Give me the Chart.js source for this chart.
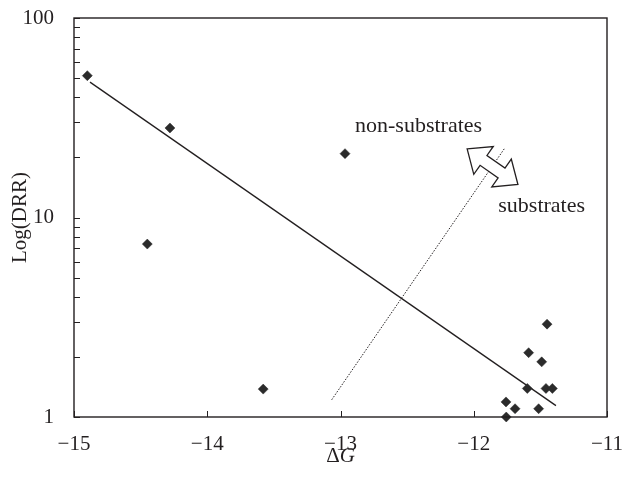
<!DOCTYPE html>
<html><head><meta charset="utf-8">
<script src="https://cdn.jsdelivr.net/npm/chart.js@4/dist/chart.umd.min.js"></script>
<style>html,body{margin:0;padding:0;background:#fff}</style>
</head><body>
<canvas id="c" width="624" height="479"></canvas>
<script>
// ---- data ----
const deltaG = [-14.90, -14.28, -14.45, -13.58, -12.966, -11.45, -11.588, -11.49, -11.598, -11.458, -11.41, -11.758, -11.69, -11.513, -11.756];
const drr    = [51.4, 28.1, 7.36, 1.38, 20.9, 2.92, 2.10, 1.89, 1.39, 1.39, 1.39, 1.19, 1.10, 1.10, 1.00];
const fitX = [-14.88, -11.383];
const fitY = [47.7, 1.14];
const boundaryX = [-13.066, -11.765];
const boundaryY = [1.22, 22.4];
const xTickValues = [-15, -14, -13, -12, -11];
const yTickValues = [1, 2, 3, 4, 5, 6, 7, 8, 9, 10, 20, 30, 40, 50, 60, 70, 80, 90, 100];
const yLabelValues = [1, 10, 100];
const labelNon = 'non-substrates';
const labelSub = 'substrates';
const xTitleUpright = '\u0394';
const xTitleItalic = 'G';

const INK = '#231f20';
const SERIF = "'Liberation Serif', 'DejaVu Serif', serif";

const annotationPlugin = {
  id: 'frameAndNotes',
  afterDraw(chart) {
    const ctx = chart.ctx, a = chart.chartArea;
    const xs = chart.scales.x, ys = chart.scales.y;
    ctx.save();
    ctx.strokeStyle = INK;
    ctx.lineWidth = 1.4;
    ctx.strokeRect(a.left, a.top, a.right - a.left, a.bottom - a.top);
    // inward ticks
    ctx.lineWidth = 1;
    ctx.beginPath();
    xs.ticks.forEach(t => {
      const px = Math.round(xs.getPixelForValue(t.value)) + 0.5;
      ctx.moveTo(px, a.bottom); ctx.lineTo(px, a.bottom - 6);
    });
    ys.ticks.forEach(t => {
      const py = Math.round(ys.getPixelForValue(t.value)) + 0.5;
      ctx.moveTo(a.left, py); ctx.lineTo(a.left + 6, py);
    });
    ctx.stroke();
    // x axis title: upright delta + italic G
    ctx.fillStyle = INK;
    ctx.textBaseline = 'alphabetic';
    ctx.textAlign = 'left';
    const fUp = '21px ' + SERIF, fIt = 'italic 21px ' + SERIF;
    ctx.font = fUp; const w1 = ctx.measureText(xTitleUpright).width;
    ctx.font = fIt; const w2 = ctx.measureText(xTitleItalic).width;
    const tx = (a.left + a.right) / 2 - (w1 + w2) / 2, ty = a.bottom + 45;
    ctx.font = fUp; ctx.fillText(xTitleUpright, tx, ty);
    ctx.font = fIt; ctx.fillText(xTitleItalic, tx + w1, ty);
    // texts
    ctx.font = '22px ' + SERIF;
    ctx.fillText(labelNon, xs.getPixelForValue(-12.891), ys.getPixelForValue(26.9));
    ctx.fillText(labelSub, xs.getPixelForValue(-11.816), ys.getPixelForValue(10.7));
    // double arrow
    const cx = xs.getPixelForValue(-11.859), cy = ys.getPixelForValue(17.97);
    const ang = 35 * Math.PI / 180;
    const pts = [[-31, 0], [-11, -17], [-11, -6], [11, -6], [11, -17], [31, 0], [11, 17], [11, 6], [-11, 6], [-11, 17]];
    ctx.translate(cx, cy);
    ctx.rotate(ang);
    ctx.beginPath();
    pts.forEach((p, i) => i ? ctx.lineTo(p[0], p[1]) : ctx.moveTo(p[0], p[1]));
    ctx.closePath();
    ctx.fillStyle = '#fff';
    ctx.fill();
    ctx.lineWidth = 1.3;
    ctx.lineJoin = 'miter';
    ctx.stroke();
    ctx.restore();
  }
};

new Chart(document.getElementById('c'), {
  type: 'scatter',
  data: {
    datasets: [
      {
        label: 'DRR',
        data: deltaG.map((x, i) => ({ x, y: drr[i] })),
        pointStyle: 'rectRot',
        pointRadius: 5,
        backgroundColor: '#2b2b2b',
        borderColor: '#2b2b2b',
        borderWidth: 0.5,
        clip: false,
        order: 0
      },
      {
        type: 'line',
        label: 'fit',
        data: fitX.map((x, i) => ({ x, y: fitY[i] })),
        borderColor: INK,
        borderWidth: 1.3,
        pointRadius: 0,
        fill: false,
        order: 1
      },
      {
        type: 'line',
        label: 'boundary',
        data: boundaryX.map((x, i) => ({ x, y: boundaryY[i] })),
        borderColor: INK,
        borderWidth: 1,
        borderDash: [1.5, 1.5],
        pointRadius: 0,
        fill: false,
        order: 2
      }
    ]
  },
  options: {
    responsive: false,
    animation: false,
    devicePixelRatio: 1,
    layout: { padding: { top: 18, right: 17, left: 0, bottom: 0 } },
    plugins: { legend: { display: false }, tooltip: { enabled: false } },
    scales: {
      x: {
        type: 'linear',
        min: -15, max: -11,
        afterBuildTicks: s => { s.ticks = xTickValues.map(v => ({ value: v })); },
        afterFit: s => { s.height = 62; s.paddingLeft = 0; s.paddingRight = 0; },
        grid: { display: false },
        border: { display: false },
        ticks: {
          color: INK,
          font: { family: SERIF, size: 21 },
          padding: 7,
          maxRotation: 0,
          autoSkip: false,
          callback: v => String(v).replace('-', '\u2212')
        },
        title: { display: false }
      },
      y: {
        type: 'logarithmic',
        min: 1, max: 100,
        afterBuildTicks: s => { s.ticks = yTickValues.map(v => ({ value: v })); },
        afterFit: s => { s.width = 74; s.paddingTop = 0; s.paddingBottom = 0; },
        grid: { display: false },
        border: { display: false },
        ticks: {
          color: INK,
          font: { family: SERIF, size: 21 },
          padding: 12,
          autoSkip: false,
          callback: v => yLabelValues.includes(v) ? String(v) : ''
        },
        title: {
          display: true,
          text: 'Log(DRR)',
          color: INK,
          font: { family: SERIF, size: 21 },
          padding: { top: 8, bottom: 0 }
        }
      }
    }
  },
  plugins: [annotationPlugin]
});
</script>
</body></html>
